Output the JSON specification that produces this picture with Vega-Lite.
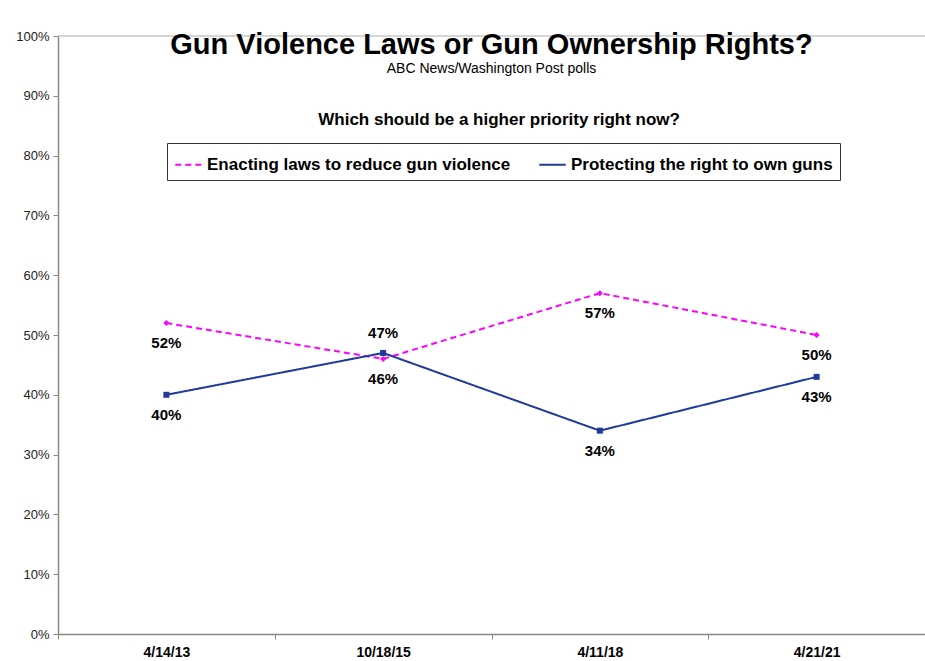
{
  "$schema": "https://vega.github.io/schema/vega-lite/v6.json",
  "width": 867,
  "height": 598,
  "autosize": {"type": "none"},
  "padding": {"left": 58, "top": 36, "right": 0, "bottom": 27},
  "background": "white",
  "config": {
    "view": {"stroke": null},
    "font": "Liberation Sans",
    "axisX": {
      "title": null, "labelFontWeight": "bold", "labelFontSize": 14, "labelColor": "black",
      "tickSize": 5, "tickColor": "#888", "domainColor": "#888", "tickBand": "extent",
      "domainWidth": 1.5, "labelPadding": 6, "grid": false, "labelAngle": 0
    },
    "axisY": {
      "title": null, "labelFontSize": 13, "labelColor": "#222", "tickSize": 5, "tickColor": "#888",
      "domainColor": "#888", "domainWidth": 1.5, "grid": false, "labelPadding": 4
    }
  },
  "title": {
    "text": "Gun Violence Laws or Gun Ownership Rights?",
    "subtitle": "ABC News/Washington Post polls",
    "fontSize": 29, "fontWeight": "bold", "color": "black",
    "subtitleFontSize": 14, "subtitleColor": "black", "subtitlePadding": 2,
    "anchor": "middle", "offset": -46
  },
  "data": {
    "values": [
      {"date": "4/14/13", "series": "Enacting laws to reduce gun violence", "pct": 52},
      {"date": "10/18/15", "series": "Enacting laws to reduce gun violence", "pct": 46},
      {"date": "4/11/18", "series": "Enacting laws to reduce gun violence", "pct": 57},
      {"date": "4/21/21", "series": "Enacting laws to reduce gun violence", "pct": 50},
      {"date": "4/14/13", "series": "Protecting the right to own guns", "pct": 40},
      {"date": "10/18/15", "series": "Protecting the right to own guns", "pct": 47},
      {"date": "4/11/18", "series": "Protecting the right to own guns", "pct": 34},
      {"date": "4/21/21", "series": "Protecting the right to own guns", "pct": 43}
    ]
  },
  "encoding": {
    "x": {
      "field": "date", "type": "ordinal", "sort": null,
      "scale": {"type": "band", "paddingInner": 0, "paddingOuter": 0}
    },
    "y": {
      "field": "pct", "type": "quantitative",
      "scale": {"domain": [0, 100], "nice": false},
      "axis": {"values": [0, 10, 20, 30, 40, 50, 60, 70, 80, 90, 100], "labelExpr": "datum.value + '%'"}
    }
  },
  "layer": [
    {
      "transform": [{"filter": "datum.date == '4/14/13' && datum.series == 'Protecting the right to own guns'"}],
      "mark": {"type": "rule", "color": "#c8c8c8", "strokeWidth": 1.5},
      "encoding": {"x": null, "y": {"datum": 100}}
    },
    {
      "mark": {"type": "line", "strokeWidth": 2},
      "encoding": {
        "color": {
          "field": "series", "type": "nominal",
          "scale": {"domain": ["Enacting laws to reduce gun violence", "Protecting the right to own guns"], "range": ["#FF00FF", "#1F3A9A"]},
          "legend": {
            "orient": "none", "legendX": 109, "legendY": 107, "direction": "horizontal", "title": null,
            "strokeColor": "#333", "fillColor": "white", "padding": 7, "labelFontSize": 17, "labelFontWeight": "bold",
            "labelColor": "black", "symbolType": "stroke", "symbolStrokeWidth": 2, "symbolSize": 700,
            "columnPadding": 24, "labelLimit": 400, "labelOffset": 4
          }
        },
        "strokeDash": {
          "field": "series", "type": "nominal",
          "scale": {"domain": ["Enacting laws to reduce gun violence", "Protecting the right to own guns"], "range": [[6, 4], [1, 0]]}
        }
      }
    },
    {
      "transform": [{"filter": "datum.series == 'Enacting laws to reduce gun violence'"}],
      "mark": {"type": "point", "filled": true, "opacity": 1, "shape": "diamond", "color": "#FF00FF", "size": 36}
    },
    {
      "transform": [{"filter": "datum.series == 'Protecting the right to own guns'"}],
      "mark": {"type": "point", "filled": true, "opacity": 1, "shape": "square", "color": "#1F3A9A", "size": 36}
    },
    {
      "transform": [
        {"filter": "!(datum.date == '10/18/15' && datum.series == 'Protecting the right to own guns')"},
        {"calculate": "datum.pct + '%'", "as": "label"}
      ],
      "mark": {"type": "text", "dy": 20, "fontSize": 15, "fontWeight": "bold", "color": "black"},
      "encoding": {"text": {"field": "label", "type": "nominal"}}
    },
    {
      "transform": [
        {"filter": "datum.date == '10/18/15' && datum.series == 'Protecting the right to own guns'"},
        {"calculate": "datum.pct + '%'", "as": "label"}
      ],
      "mark": {"type": "text", "dy": -20, "fontSize": 15, "fontWeight": "bold", "color": "black"},
      "encoding": {"text": {"field": "label", "type": "nominal"}}
    },
    {
      "transform": [{"filter": "datum.date == '4/11/18' && datum.series == 'Protecting the right to own guns'"}],
      "mark": {"type": "text", "fontSize": 17, "fontWeight": "bold", "color": "black"},
      "encoding": {
        "x": {"field": "date", "type": "ordinal", "bandPosition": 0.035},
        "y": {"datum": 86},
        "text": {"value": "Which should be a higher priority right now?"}
      }
    }
  ]
}
